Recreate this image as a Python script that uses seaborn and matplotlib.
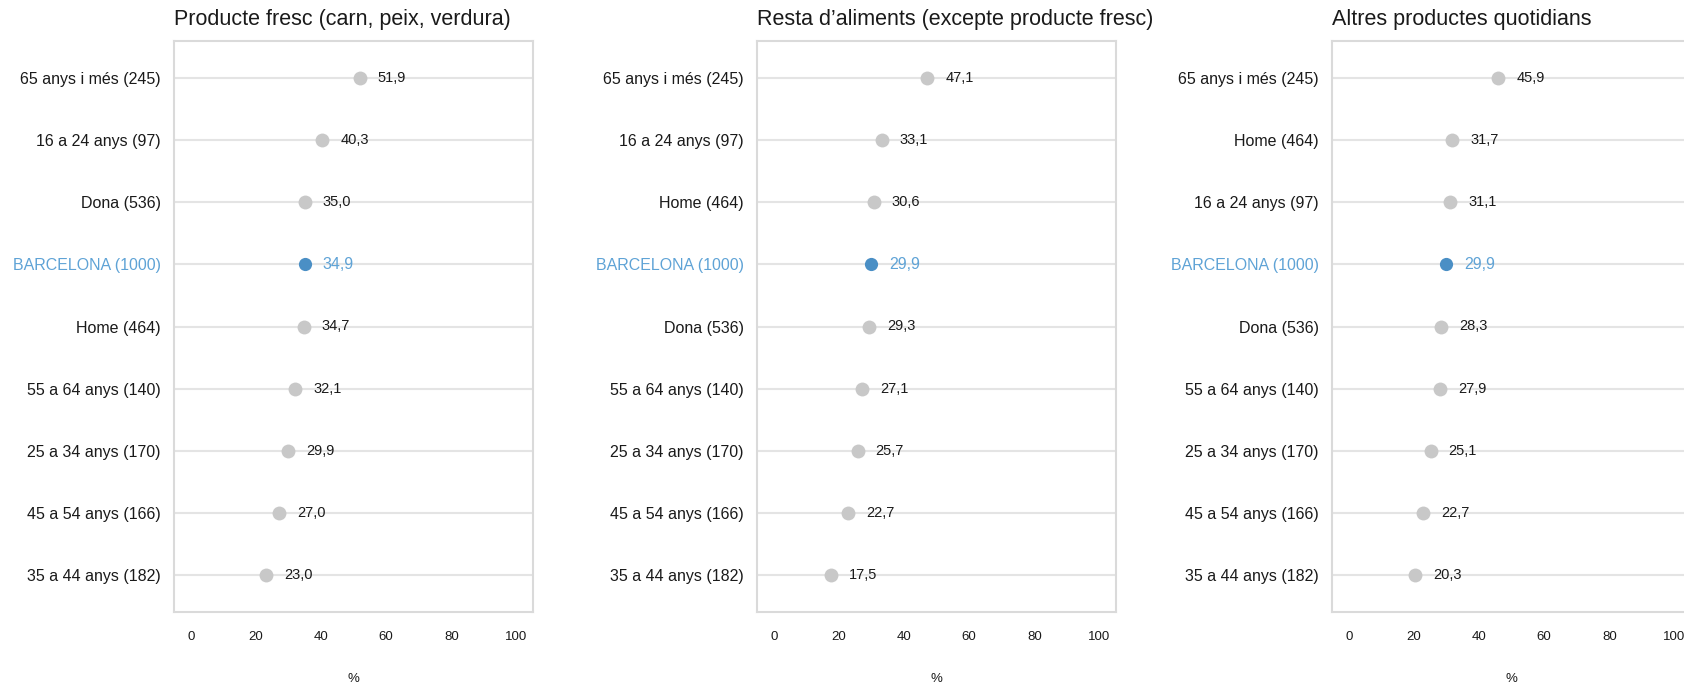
import matplotlib
matplotlib.use("Agg")
import matplotlib.pyplot as plt
import seaborn as sns
import pandas as pd

sns.set_theme(style="white")
plt.rcParams["font.family"] = ["Liberation Sans", "DejaVu Sans"]

titles = [
    "Producte fresc (carn, peix, verdura)",
    "Resta d\u2019aliments (excepte producte fresc)",
    "Altres productes quotidians",
]

labels_1 = ["65 anys i més (245)", "16 a 24 anys (97)", "Dona (536)", "BARCELONA (1000)",
            "Home (464)", "55 a 64 anys (140)", "25 a 34 anys (170)", "45 a 54 anys (166)",
            "35 a 44 anys (182)"]
values_1 = [51.9, 40.3, 35.0, 34.9, 34.7, 32.1, 29.9, 27.0, 23.0]

labels_2 = ["65 anys i més (245)", "16 a 24 anys (97)", "Home (464)", "BARCELONA (1000)",
            "Dona (536)", "55 a 64 anys (140)", "25 a 34 anys (170)", "45 a 54 anys (166)",
            "35 a 44 anys (182)"]
values_2 = [47.1, 33.1, 30.6, 29.9, 29.3, 27.1, 25.7, 22.7, 17.5]

labels_3 = ["65 anys i més (245)", "Home (464)", "16 a 24 anys (97)", "BARCELONA (1000)",
            "Dona (536)", "55 a 64 anys (140)", "25 a 34 anys (170)", "45 a 54 anys (166)",
            "35 a 44 anys (182)"]
values_3 = [45.9, 31.7, 31.1, 29.9, 28.3, 27.9, 25.1, 22.7, 20.3]

x_ticks = [0, 20, 40, 60, 80, 100]
x_label = "%"
highlight = "BARCELONA (1000)"

GRAY_DOT = "#c8c8c8"
BLUE_DOT = "#4a8fc5"
BLUE_TXT = "#5fa3d6"
TXT = "#1a1a1a"
LINE = "#e4e4e4"
SPINE = "#dadada"

fig = plt.figure(figsize=(16.84, 6.85), dpi=100)
W, H = 1684, 685
lefts = [174, 757, 1332]
top_px, bot_px, width_px = 41, 612, 359

panels = [(labels_1, values_1), (labels_2, values_2), (labels_3, values_3)]

for i, (labs, vals) in enumerate(panels):
    ax = fig.add_axes([lefts[i] / W, 1 - bot_px / H, width_px / W, (bot_px - top_px) / H])
    df = pd.DataFrame({"label": labs, "value": vals,
                       "grp": ["hl" if l == highlight else "n" for l in labs]})
    df_n = df[df.grp == "n"]
    df_h = df[df.grp == "hl"]
    sns.stripplot(data=df_n, x="value", y="label", order=labs, jitter=False,
                  color=GRAY_DOT, size=10, linewidth=0, ax=ax, orient="h", zorder=3)
    sns.stripplot(data=df_h, x="value", y="label", order=labs, jitter=False,
                  color=BLUE_DOT, size=9.5, linewidth=0, ax=ax, orient="h", zorder=4)
    ax.set_xlim(-5.2, 105.1)
    ax.set_ylim(8.6, -0.6)
    ax.set_xticks(x_ticks)
    ax.set_xticklabels([str(t) for t in x_ticks], fontsize=9.5, color=TXT)
    ax.set_yticks(range(len(labs)))
    ax.set_yticklabels(labs, fontsize=11.5)
    for t in ax.get_yticklabels():
        t.set_color(BLUE_TXT if t.get_text() == highlight else TXT)
    ax.tick_params(axis="y", length=0, pad=9.5)
    ax.tick_params(axis="x", length=3.5, width=1, color="#cccccc", pad=10, direction="out")
    ax.grid(axis="y", color=LINE, linewidth=1.5)
    ax.grid(axis="x", visible=False)
    ax.set_axisbelow(True)
    for s in ax.spines.values():
        s.set_color(SPINE)
        s.set_linewidth(1.5)
        s.set_visible(True)
    ax.set_ylabel("")
    ax.set_xlabel(x_label, fontsize=9.5, color=TXT, labelpad=22)
    ax.set_title(titles[i], loc="left", fontsize=15.5, color=TXT, pad=11.5)
    for j, (l, v) in enumerate(zip(labs, vals)):
        is_h = l == highlight
        ax.annotate(f"{v:.1f}".replace(".", ","), (v, j), xytext=(13, 0),
                    textcoords="offset points", ha="left", va="center",
                    fontsize=11.5 if is_h else 10.5,
                    color=BLUE_TXT if is_h else TXT, zorder=5)

fig.savefig("out.png", dpi=100)
